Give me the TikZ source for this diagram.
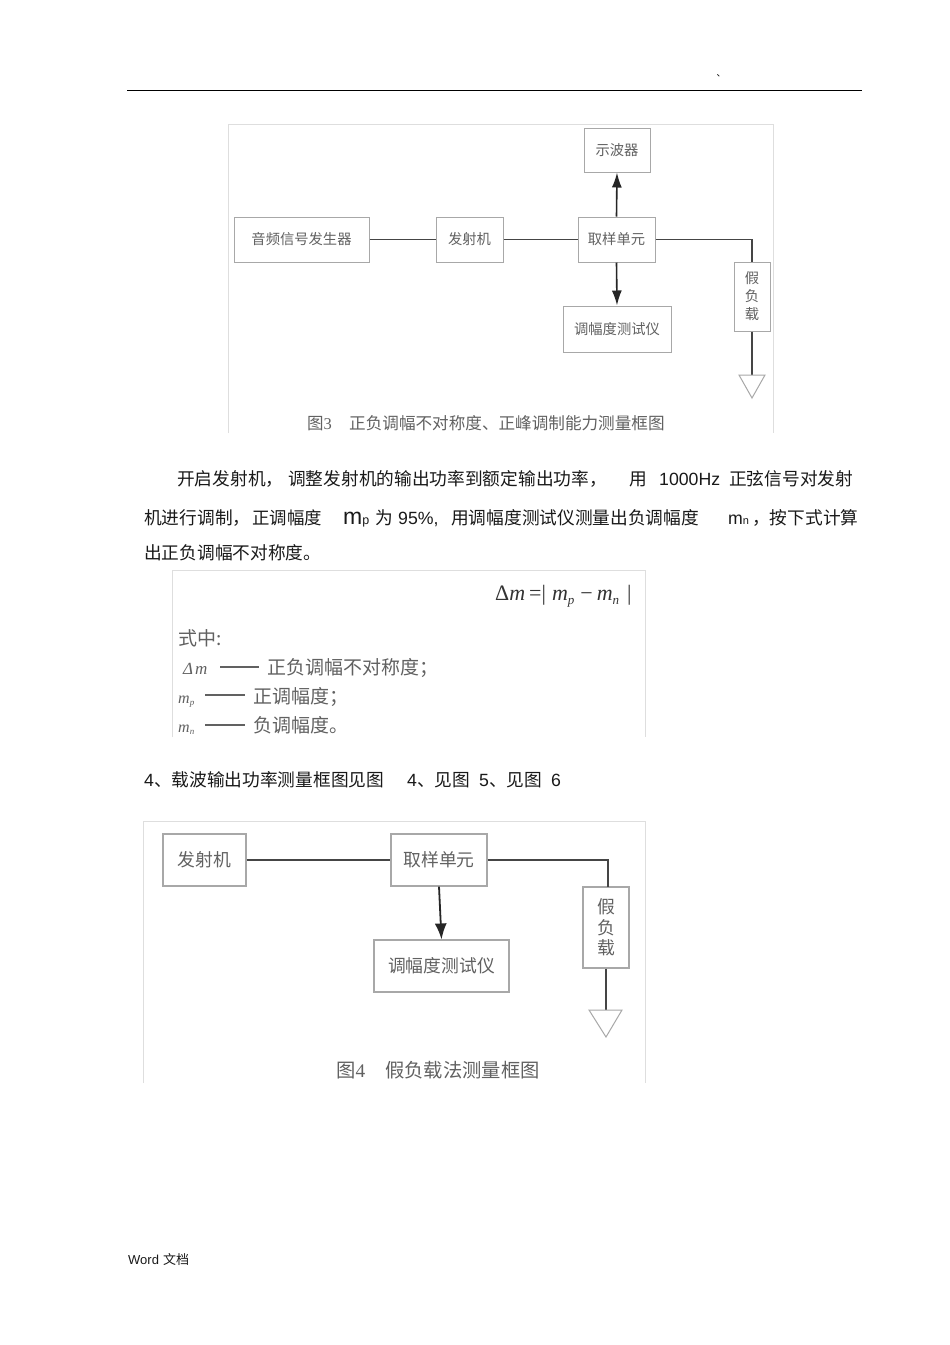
\documentclass[tikz,border=0pt]{standalone}
\usepackage{fontspec}
\setmainfont{Noto Sans CJK SC}
\newfontfamily\lat{Liberation Sans}
\newfontfamily\serif{Liberation Serif}
\newcommand{\fs}[1]{\fontsize{#1}{#1}\selectfont}
\newcommand{\subs}[1]{\raisebox{-4pt}{\fs{13}\itshape #1}}
\definecolor{framec}{gray}{0.87}
\definecolor{boxc}{gray}{0.66}
\definecolor{wirec}{gray}{0.27}
\definecolor{labc}{gray}{0.38}
\usetikzlibrary{arrows.meta}
\tikzset{
  frameline/.style={draw=framec,line width=1pt},
  blockA/.style={draw=boxc,line width=1pt,fill=white,inner sep=0pt,text=labc,font=\fs{14.3}},
  blockB/.style={draw=boxc,line width=1.1pt,fill=white,inner sep=0pt,text=labc,font=\fs{17.8}},
  wire/.style={draw=wirec,line width=1.6pt},
  wireB/.style={draw=wirec,line width=1.8pt},
  arr/.style={draw=black!85,line width=1.6pt,-{Latex[length=15pt,width=10pt]}},
  arrB/.style={draw=black!85,line width=1.8pt,-{Latex[length=16pt,width=12pt]}},
  tri/.style={draw=boxc,line width=1pt,fill=white},
  body/.style={anchor=base west,inner sep=0pt,text=black!90,font=\fs{17.7}},
  captxt/.style={anchor=base west,inner sep=0pt,text=labc},
  note/.style={anchor=base west,inner sep=0pt,text=labc,font=\fs{19}},
  sym/.style={anchor=base west,inner sep=0pt,text=labc,font=\serif\itshape\fs{17}},
  dashl/.style={draw=labc,line width=1.2pt},
}
\begin{document}
\begin{tikzpicture}[x=1pt,y=-1pt]
\useasboundingbox[fill=white] (0,0) rectangle (950,1345);
% header
\coordinate (ruleL) at (127,90); \coordinate (ruleR) at (862,90);
\draw[black,line width=0.9pt] (ruleL) -- (ruleR);
\node[anchor=base west,inner sep=0pt,font=\fs{9}] (tick) at (716.5,76) {、};
% figure 3
\draw[frameline] (228,433) -- (228,124) -- (773,124) -- (773,433);
\node[blockA,minimum width=135pt,minimum height=45pt] (gen) at (301.5,239.5) {音频信号发生器};
\node[blockA,minimum width=67pt,minimum height=45pt] (tx) at (469.5,239.5) {发射机};
\node[blockA,minimum width=77pt,minimum height=45pt] (sam) at (616.5,239.5) {取样单元};
\node[blockA,minimum width=66pt,minimum height=44pt] (osc) at (617,150) {示波器};
\node[blockA,minimum width=108pt,minimum height=46pt] (mod) at (617,329) {调幅度测试仪};
\node[blockA,minimum width=36pt,minimum height=69pt,align=center] (load) at (752,296.5) {假\\[3.7pt]负\\[3.7pt]载};
\coordinate (gnd) at (752,375);
\draw[wire] (gen) -- (tx);
\draw[wire] (tx) -- (sam);
\draw[wire] (sam.east) -| (load.north);
\draw[wire] (load.south) -- (gnd);
\draw[arr] (sam.north) -- (osc.south);
\draw[arr] (sam.south) -- (mod.north);
\draw[tri] (gnd) ++(-13,0) -- ++(26,0) -- (752,398) -- cycle;
\node[captxt,font=\fs{16.5}] (cap3a) at (307,429) {图{\serif 3}};
\node[captxt,font=\fs{16.6}] (cap3) at (349,429) {正负调幅不对称度、正峰调制能力测量框图};
% paragraph
\node[body] (p1a) at (177,485) {开启发射机，};
\node[body] (p1b) at (288,485) {调整发射机的输出功率到额定输出功率，};
\node[body] (p1c) at (629,485) {用};
\node[body] (p1d) at (659,485) {\lat 1000Hz};
\node[body] (p1e) at (729,485) {正弦信号对发射};
\node[body] (p2a) at (144,524) {机进行调制，};
\node[body,font=\fs{17.4}] (p2b) at (252,524) {正调幅度};
\node[body] (p2c) at (343,524) {\lat\fs{23}m\fs{12.5}p};
\node[body] (p2d) at (375,524) {为};
\node[body] (p2e) at (398,524) {\lat 95\%,};
\node[body] (p2f) at (451,524) {用调幅度测试仪测量出负调幅度};
\node[body] (p2g) at (728,524) {\lat\fs{17.7}m\fs{11}n};
\node[body] (p2h) at (752,524) {，按下式计算};
\node[body] (p3) at (144,559) {出正负调幅不对称度。};
% formula panel
\draw[frameline] (172,737) -- (172,570) -- (645,570) -- (645,737);
\node[anchor=base west,inner sep=0pt,text=black!80,font=\serif\fs{22}] (eq) at (495,600) {Δ{\itshape m}\hspace{4pt}=|\hspace{6pt}{\itshape m}\subs{p}\hspace{6pt}−\hspace{4pt}{\itshape m}\subs{n}\hspace{8pt}|};
\node[note] (shi) at (178,645) {式中:};
\node[sym] (d1) at (183,674) {Δ\hspace{2pt}m};
\coordinate (d1a) at (220,667); \coordinate (d1b) at (259,667);
\draw[dashl] (d1a) -- (d1b);
\node[note] (t1) at (267,674) {正负调幅不对称度；};
\node[sym,font=\serif\itshape\fs{16}] (d2) at (178,703) {m\raisebox{-2pt}{\fs{9}p}};
\coordinate (d2a) at (205,695); \coordinate (d2b) at (245,695);
\draw[dashl] (d2a) -- (d2b);
\node[note] (t2) at (253,703) {正调幅度；};
\node[sym,font=\serif\itshape\fs{16}] (d3) at (178,732) {m\raisebox{-2pt}{\fs{9}n}};
\coordinate (d3a) at (205,725); \coordinate (d3b) at (245,725);
\draw[dashl] (d3a) -- (d3b);
\node[note] (t3) at (253,732) {负调幅度。};
% line 4
\node[body] (l4a) at (144,786) {{\lat 4}、载波输出功率测量框图见图};
\node[body] (l4b) at (407,786) {{\lat 4}、见图};
\node[body] (l4c) at (479,786) {{\lat 5}、见图};
\node[body] (l4d) at (551,786) {\lat 6};
% figure 4
\draw[frameline] (143,1083) -- (143,821) -- (645,821) -- (645,1083);
\node[blockB,minimum width=83pt,minimum height=52pt] (txB) at (204.5,860) {发射机};
\node[blockB,minimum width=96pt,minimum height=52pt] (samB) at (439,860) {取样单元};
\node[blockB,minimum width=135pt,minimum height=52pt] (modB) at (441.5,966) {调幅度测试仪};
\node[blockB,minimum width=46pt,minimum height=81pt,align=center] (loadB) at (606,927.5) {假\\[2.7pt]负\\[2.7pt]载};
\coordinate (gndB) at (606,1010);
\coordinate (bendB) at (608,860);
\coordinate (loadBt) at (608,887);
\draw[wireB] (txB) -- (samB);
\draw[wireB] (samB.east) -- (bendB) -- (loadBt);
\draw[wireB] (loadB.south) -- (gndB);
\draw[arrB] (samB.south) -- (modB.north);
\draw[tri] (gndB) ++(-17,0) -- ++(33,0) -- (606,1037) -- cycle;
\node[captxt,font=\fs{19.3}] (cap4a) at (336,1077) {图{\serif 4}};
\node[captxt,font=\fs{19.3}] (cap4) at (385,1077) {假负载法测量框图};
% footer
\node[anchor=base west,inner sep=0pt,text=black!90,font=\fs{13}] (foot) at (128,1264) {{\lat Word}\hspace{4pt}文档};
\end{tikzpicture}
\end{document}
